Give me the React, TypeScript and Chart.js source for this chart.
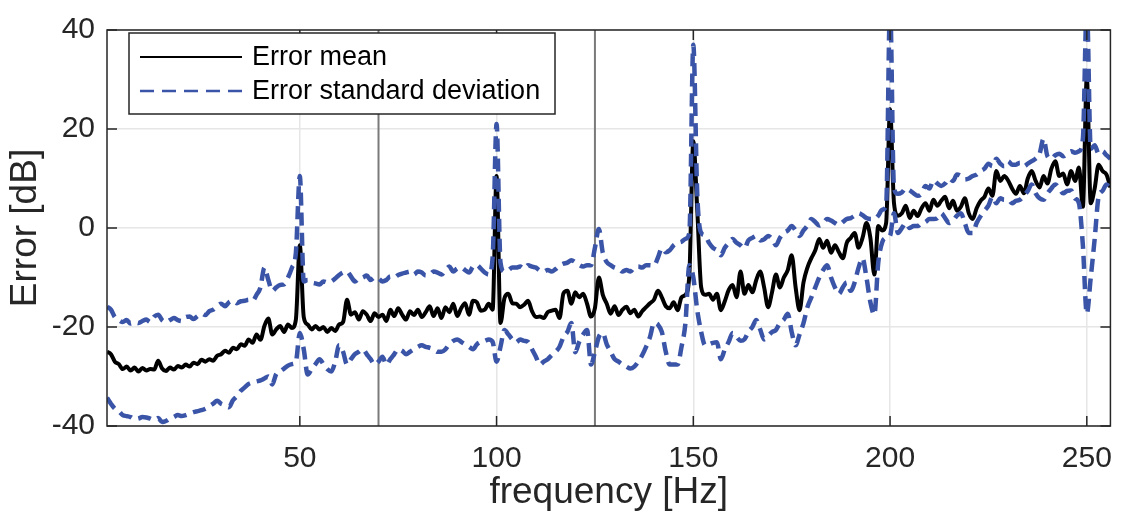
import React, { useEffect, useRef } from "react";
import { Chart, registerables } from "chart.js";

Chart.register(...registerables);

// Frequency bins [Hz]
const freqHz: number[] = Array.from({ length: 256 }, (_, i) => i + 1);

// Error mean [dB]
const errorMean: number[] = [
  -25, -25.5, -27, -27.5, -28.5, -28, -28.8, -28.2, -29, -28.3,
  -28.8, -28.5, -28.6, -26.8, -28.4, -28.9, -28.2, -28.6, -27.9, -28.2,
  -27.6, -28, -27.2, -27.5, -26.6, -27, -26.5, -26.8, -25.8, -25.5,
  -24.8, -25.2, -24.2, -24.5, -23.5, -23.8, -22.5, -23.2, -21.5, -22.6,
  -19.8, -18.3, -21.5, -20.5, -19.8, -21, -19.5, -20.2, -18.5, -3.5,
  -18, -19.5, -20.5, -19.8, -20.5, -20, -21, -20.2, -20.8, -19.5,
  -19, -14.5, -17.5, -17, -18.5, -16.8, -17.5, -18.8, -17.2, -18,
  -17.5, -18.8, -16.5, -17.8, -16.2, -17.5, -18.5, -16.8, -17.6, -16.5,
  -18, -17, -15.8, -17.8, -16.2, -18.2, -16, -17, -15.3, -17.8,
  -16.2, -15.2, -17.5, -14.7, -15, -16.7, -16.5, -15.3, -16.5, 10.5,
  -19.2, -14.2, -13.3, -15.2, -15.3, -16, -15.5, -14.7, -16.8, -18,
  -17.9, -18.2, -17, -16.7, -16.5, -18.2, -13.2, -12.7, -15.3, -13,
  -14, -13.3, -15.3, -17.9, -16.2, -10, -13.5, -15.3, -17.3, -15.8,
  -17.6, -16.5, -15.9, -17.2, -16.5, -17.9, -16.8, -16, -15.2, -14.5,
  -12.7, -14, -15.8, -16.2, -15, -16.6, -14, -13.5, -9.4, 17.5,
  3.7, -12, -13.5, -13.3, -14.5, -13.3, -16.6, -14.8, -12.5, -11.5,
  -14, -8.8, -13.3, -11.5, -13, -10.5, -8.8, -12, -16, -13,
  -9.4, -12, -10, -8.5, -5.5, -12, -16.6, -11, -8, -6.1,
  -4.5, -2.2, -4, -2.6, -5, -3.5, -4.9, -6.1, -3, -2,
  -1, -4, -2, 1, -2, -9.4, 0.4, -0.5, 1, 24,
  5, 2.5, 3, 4.5, 2, 3.5, 2.4, 4, 5, 3.5,
  5.7, 4.5, 5.5, 6.3, 4, 5.5, 3.5, 4.3, 6, 3,
  1.8, 4, 5.5, 6.3, 8, 6.5, 11.5, 9.5, 10.5, 9.6,
  8, 6.9, 8.5, 7, 10, 11.5, 9.5, 8.2, 10.5, 9,
  12, 13.5, 10.5, 11, 8.8, 11.5, 9.5, 12.2, 4.3, 30.4,
  5, 8, 12.8, 11.5, 10.8, 8.2,
];

// Upper bound of error standard deviation band [dB]
const errorStdUpper: number[] = [
  -15.9, -16.5, -18, -18.6, -19, -18.6, -19.3, -19, -19.2, -18.8,
  -18.5, -19, -17.9, -17.5, -18.6, -19, -18.6, -18.2, -18.6, -18.8,
  -18, -17.9, -18.4, -17.8, -17.3, -17.6, -16.8, -16.5, -15.8, -15.3,
  -15.8, -15, -14.7, -15.2, -14.8, -14.7, -14.5, -14.7, -13.5, -12,
  -8, -10.5, -12.7, -12, -11.5, -11.4, -10, -8, -5, 10.5,
  -10.8, -10.5, -11, -11.2, -11.4, -10.8, -11, -10.8, -10.2, -9.5,
  -9, -8.8, -9.8, -10.8, -10.2, -10, -9.6, -10.5, -10, -10.2,
  -10.8, -10.5, -9.8, -10, -9.5, -9.2, -9, -8.8, -9.4, -8.8,
  -9, -9.6, -9.4, -8.8, -9, -9.4, -8.5, -7.8, -8.8, -8.2,
  -8, -8.5, -9, -7.8, -7.5, -8.2, -9, -9.4, -6, 21,
  -7, -8.8, -8.5, -8, -8, -7.8, -8.2, -7.5, -7.8, -8,
  -8.6, -8.8, -8.5, -8.8, -8.3, -7.6, -7.2, -7, -6.5, -6.9,
  -7.5, -7.8, -7.5, -7.5, -4, -0.2, -5, -6.9, -7.5, -8,
  -8.2, -8.8, -8.5, -8.8, -8, -7.8, -8, -7.5, -7.5, -7.6,
  -6, -4.1, -4.9, -4.5, -3.5, -3, -2.8, -2.2, -1, 37,
  6.9, -1, -1.5, -3, -4, -4.5, -5.5, -4, -3, -2.2,
  -3, -3.5, -4.1, -2.5, -2, -1.6, -2.5, -2.3, -1.6, -2.2,
  -3.5, -2, -1, -0.5, 0.4, -0.5, -1.6, -0.5, 0.5, 1.8,
  1.2, 0.5, 1, 1.8, 1.5, 1, 0.6, 1.2, 1.8, 2,
  2.5, 3, 2.6, 2, 1.8, 1.8, 2.5, 3.7, 4.5, 45,
  8, 6.9, 7.2, 8, 7.6, 7, 6.5, 6.9, 8.5, 8,
  9.6, 9, 8.5, 9, 10, 9.5, 10.8, 10.5, 9.8, 10,
  10.5, 10.8, 11.5, 12, 13, 12.5, 14, 13, 12.5, 13.5,
  12.8, 12.8, 13.2, 12.5, 13, 13.5, 14, 15, 18, 14.5,
  14, 14.7, 15, 14.5, 15, 15.5, 15.2, 15.5, 18, 45,
  16, 16.7, 15, 15.5, 14.7, 14,
];

// Lower bound of error standard deviation band [dB]
const errorStdLower: number[] = [
  -34.3, -35.5, -36.5, -37, -37.8, -38, -38.2, -38.6, -38.5, -38.2,
  -38.3, -38.5, -38.8, -38.4, -39.2, -39, -38.5, -38.2, -37.8, -38,
  -37.8, -37.5, -37.2, -37, -36.8, -36.5, -36, -35.5, -34.9, -35.5,
  -35.8, -36.2, -34.8, -34, -32.9, -32.2, -31.5, -31.2, -31, -30.8,
  -30.4, -30, -31.6, -29.5, -29, -28.4, -27.8, -27.5, -27, -21.2,
  -24.5, -29.6, -28.5, -27.5, -26.5, -27.5, -28.5, -29, -27, -23.7,
  -25, -27.6, -26.5, -25.5, -25, -24.5, -25.5, -26.5, -27.6, -27,
  -26, -27.6, -26.5, -25.5, -24.5, -24.8, -25.5, -25, -24.5, -24,
  -23.7, -24, -24.2, -24.5, -25, -25, -24.5, -23.5, -22.8, -22.5,
  -23, -23.5, -24, -24.5, -23.5, -23, -22.8, -22.5, -23, -27,
  -24, -20.6, -21.5, -22.5, -23.1, -22.5, -22.8, -23, -24.5, -26,
  -27.6, -27, -26.5, -25.7, -25, -24, -22, -21, -19.2, -25.1,
  -23, -21.5, -20.6, -27.6, -25, -22, -21.2, -23.5, -25, -26.5,
  -27, -27.6, -28, -28.4, -28, -27, -25.7, -24, -22, -19.2,
  -19.5, -21, -25, -27.6, -27.6, -27.6, -24, -19.2, -7.5, -10,
  -16.6, -21, -23.7, -23.5, -23.2, -23.1, -26.5, -24.5, -23, -21.2,
  -22, -22.8, -22.5, -21, -20, -18.6, -20.5, -22.5, -21.8, -21,
  -20.6, -19.2, -18.5, -17.3, -21, -23.7, -21.5, -19.2, -16, -14,
  -12, -10, -8.5, -7.5, -10, -12, -13.3, -12, -11, -12.7,
  -11, -8, -6.1, -10, -15, -17.5, -7, -2.9, -2, -1.6,
  3, -1, 0, 1, 0, 0.4, 0.4, 1, 1.2, 1.8,
  1.8, 2, 3, 2, 1, 1.5, 2.5, 3, 1, -1,
  -1, 1, 2.4, 3.5, 4.5, 6.3, 5, 6, 5.7, 5.7,
  5, 5.5, 5.7, 6.5, 7.5, 8.8, 7, 6, 5.7, 7,
  8, 8.8, 8, 7, 7.5, 7.6, 6, 5, -3.5, -17.3,
  -10, -2.2, 6.3, 7.5, 8.8, 8,
];

// Reference markers [Hz]
const markerFreqs: number[] = [70, 125];

const xTicks: number[] = [50, 100, 150, 200, 250];
const yTicks: number[] = [-40, -20, 0, 20, 40];

const legendLabels: string[] = ["Error mean", "Error standard deviation"];

const BLUE = "#3a54a7";
const AXIS = "#262626";
const FONT = "'Liberation Sans', Arial, Helvetica, sans-serif";

export default function App() {
  const ref = useRef<HTMLCanvasElement | null>(null);

  useEffect(() => {
    const canvas = ref.current;
    if (!canvas) return;
    document.body.style.margin = "0";

    const toXY = (vals: number[]) => vals.map((v, i) => ({ x: freqHz[i], y: v }));

    const boxPlugin = {
      id: "matlabBox",
      afterDatasetsDraw(chart: any) {
        const { ctx, chartArea: a, scales } = chart;
        const xs = scales.x;
        const ys = scales.y;
        ctx.save();
        ctx.strokeStyle = AXIS;
        ctx.lineWidth = 1.5;
        ctx.setLineDash([]);
        ctx.strokeRect(a.left, a.top, a.right - a.left, a.bottom - a.top);
        const tl = 10;
        ctx.beginPath();
        xTicks.forEach((t) => {
          const px = xs.getPixelForValue(t);
          ctx.moveTo(px, a.bottom);
          ctx.lineTo(px, a.bottom - tl);
          ctx.moveTo(px, a.top);
          ctx.lineTo(px, a.top + tl);
        });
        yTicks.forEach((t) => {
          const py = ys.getPixelForValue(t);
          ctx.moveTo(a.left, py);
          ctx.lineTo(a.left + tl, py);
          ctx.moveTo(a.right, py);
          ctx.lineTo(a.right - tl, py);
        });
        ctx.stroke();

        // legend
        const lx = 129, ly = 33, lw = 426, lh = 81;
        ctx.fillStyle = "#ffffff";
        ctx.fillRect(lx, ly, lw, lh);
        ctx.strokeStyle = AXIS;
        ctx.lineWidth = 1.5;
        ctx.strokeRect(lx, ly, lw, lh);
        const rows = [57, 91];
        ctx.lineWidth = 2;
        ctx.strokeStyle = "#000000";
        ctx.beginPath();
        ctx.moveTo(140, rows[0]);
        ctx.lineTo(242, rows[0]);
        ctx.stroke();
        ctx.strokeStyle = BLUE;
        ctx.lineWidth = 2.5;
        ctx.setLineDash([14, 8]);
        ctx.beginPath();
        ctx.moveTo(140, rows[1]);
        ctx.lineTo(242, rows[1]);
        ctx.stroke();
        ctx.setLineDash([]);
        ctx.fillStyle = "#000000";
        ctx.font = `27px ${FONT}`;
        ctx.textBaseline = "middle";
        ctx.textAlign = "left";
        legendLabels.forEach((s, i) => ctx.fillText(s, 252, rows[i] + 1));
        ctx.restore();
      },
    };

    const chart = new Chart(canvas, {
      type: "line",
      data: {
        datasets: [
          ...markerFreqs.map((f) => ({
            label: "marker",
            data: [
              { x: f, y: -40 },
              { x: f, y: 40 },
            ],
            borderColor: "#7a7a7a",
            borderWidth: 2,
            pointRadius: 0,
            order: 4,
          })),
          {
            label: legendLabels[0],
            data: toXY(errorMean),
            borderColor: "#000000",
            borderWidth: 4,
            pointRadius: 0,
            cubicInterpolationMode: "monotone",
            borderJoinStyle: "round",
            order: 3,
          },
          {
            label: legendLabels[1],
            data: toXY(errorStdUpper),
            borderColor: BLUE,
            borderWidth: 4.5,
            borderDash: [13, 7],
            pointRadius: 0,
            cubicInterpolationMode: "monotone",
            order: 2,
          },
          {
            label: legendLabels[1] + " (lower)",
            data: toXY(errorStdLower),
            borderColor: BLUE,
            borderWidth: 4.5,
            borderDash: [13, 7],
            pointRadius: 0,
            cubicInterpolationMode: "monotone",
            order: 1,
          },
        ] as any,
      },
      options: {
        animation: false,
        responsive: true,
        maintainAspectRatio: false,
        layout: { padding: { top: 18, right: 7, left: 0, bottom: 0 } },
        plugins: {
          legend: { display: false },
          tooltip: { enabled: false },
        },
        scales: {
          x: {
            type: "linear",
            min: 1,
            max: 256,
            afterBuildTicks: (s: any) => {
              s.ticks = xTicks.map((v) => ({ value: v }));
            },
            afterFit: (s: any) => {
              s.height = 92;
            },
            grid: { color: "#e6e6e6", lineWidth: 1.5, drawTicks: false },
            border: { display: false },
            ticks: {
              color: AXIS,
              padding: 15,
              maxRotation: 0,
              font: { family: FONT, size: 30 },
            },
            title: {
              display: true,
              text: "frequency [Hz]",
              color: AXIS,
              font: { family: FONT, size: 37, lineHeight: 1.2 },
              padding: { top: 3, bottom: 3 },
            },
          },
          y: {
            type: "linear",
            min: -40,
            max: 40,
            afterBuildTicks: (s: any) => {
              s.ticks = yTicks.map((v) => ({ value: v }));
            },
            afterFit: (s: any) => {
              s.width = 107;
            },
            grid: { color: "#e6e6e6", lineWidth: 1.5, drawTicks: false },
            border: { display: false },
            ticks: {
              color: AXIS,
              padding: 12,
              font: { family: FONT, size: 30 },
            },
            title: {
              display: true,
              text: "Error [dB]",
              color: AXIS,
              font: { family: FONT, size: 37, lineHeight: 1.2 },
              padding: { top: 4, bottom: 4 },
            },
          },
        },
      },
      plugins: [boxPlugin],
    });

    return () => chart.destroy();
  }, []);

  return (
    <div style={{ position: "fixed", left: 0, top: 0, width: 1127, height: 518, background: "#fff" }}>
      <canvas ref={ref} />
    </div>
  );
}
